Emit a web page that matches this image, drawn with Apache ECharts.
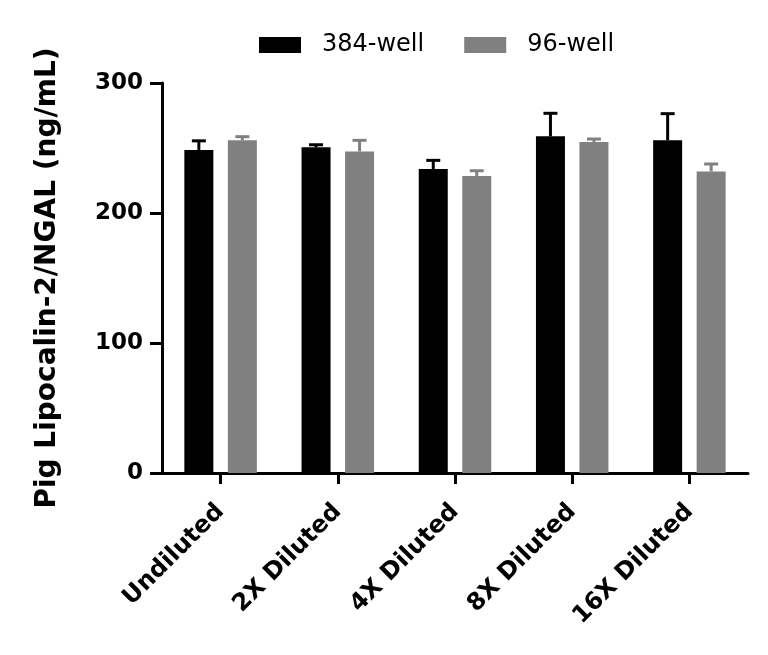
<!DOCTYPE html>
<html>
<head>
<meta charset="utf-8">
<script src="https://cdn.jsdelivr.net/npm/echarts@6/dist/echarts.min.js"></script>
<style>
  html, body { margin: 0; padding: 0; background: #fff; }
  #chart { width: 768px; height: 655px; }
</style>
</head>
<body>
<div id="chart"></div>
<script>
var categories = ["Undiluted", "2X Diluted", "4X Diluted", "8X Diluted", "16X Diluted"];
var well384 = [248.5, 250.5, 233.8, 259.0, 255.9];
var well384Sd = [7.0, 2.0, 6.7, 17.7, 20.5];
var well96 = [255.9, 247.4, 228.5, 254.6, 232.0];
var well96Sd = [2.8, 8.5, 4.0, 2.3, 5.7];
var yTicks = [0, 100, 200, 300];

var FONT = "DejaVu Sans";
var barW = 29;
var gapRatio = 0.5;

// upper-only error bar, shifted to sit over its bar
function errBar(offset, color) {
  return function (params, api) {
    var i = api.value(0);
    var base = api.coord([i, api.value(1)]);
    var top = api.coord([i, api.value(2)]);
    var x = base[0] + offset;
    return {
      type: "group",
      children: [
        { type: "line", shape: { x1: x, y1: base[1], x2: x, y2: top[1] },
          style: { stroke: color, lineWidth: 3 } },
        { type: "line", shape: { x1: x - 7, y1: top[1], x2: x + 7, y2: top[1] },
          style: { stroke: color, lineWidth: 3 } }
      ]
    };
  };
}

function errData(means, sds) {
  return means.map(function (m, i) { return [i, m, m + sds[i]]; });
}

var off = (barW + barW * gapRatio) / 2;
var chart = echarts.init(document.getElementById("chart"));
chart.setOption({
  animation: false,
  grid: { left: 162, right: 20, top: 83, bottom: 182 },
  legend: {
    left: 254, top: 28,
    itemWidth: 42, itemHeight: 16, itemGap: 40,
    icon: "rect",
    data: ["384-well", "96-well"],
    textStyle: { fontFamily: FONT, fontSize: 24, color: "#000", padding: [0, 0, 0, 16] }
  },
  xAxis: {
    type: "category",
    data: categories,
    axisLine: { lineStyle: { color: "#000", width: 3 } },
    axisTick: { show: true, alignWithLabel: true, length: 11, lineStyle: { color: "#000", width: 3 } },
    axisLabel: {
      rotate: 45, margin: 35,
      fontFamily: FONT, fontSize: 24, fontWeight: "bold", color: "#000"
    }
  },
  yAxis: {
    type: "value",
    min: yTicks[0], max: yTicks[yTicks.length - 1], interval: 100,
    name: "Pig Lipocalin-2/NGAL (ng/mL)",
    nameLocation: "middle", nameGap: 100,
    nameTextStyle: { fontFamily: FONT, fontSize: 28, fontWeight: "bold", color: "#000" },
    axisLine: { show: true, lineStyle: { color: "#000", width: 3 } },
    axisTick: { show: true, length: 12, lineStyle: { color: "#000", width: 3 } },
    splitLine: { show: false },
    axisLabel: { margin: 19, fontFamily: FONT, fontSize: 23, fontWeight: "bold", color: "#000" }
  },
  series: [
    { name: "384-well", type: "bar", data: well384, barWidth: barW, barGap: "50%",
      itemStyle: { color: "#000" } },
    { name: "96-well", type: "bar", data: well96, barWidth: barW, barGap: "50%",
      itemStyle: { color: "#808080" } },
    { type: "custom", renderItem: errBar(-off, "#000"), data: errData(well384, well384Sd), z: 3 },
    { type: "custom", renderItem: errBar(off, "#808080"), data: errData(well96, well96Sd), z: 3 }
  ]
});
</script>
</body>
</html>
